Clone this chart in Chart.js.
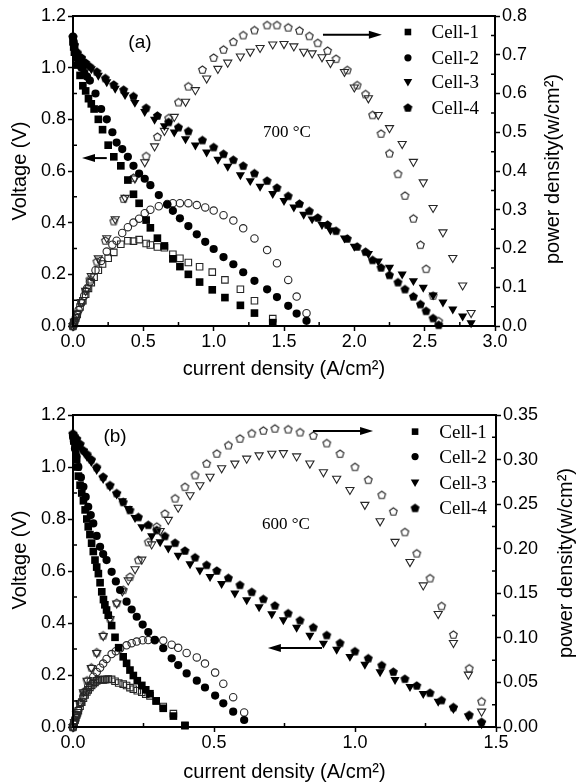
<!DOCTYPE html>
<html>
<head>
<meta charset="utf-8">
<script src="https://cdn.jsdelivr.net/npm/chart.js@4.4.1/dist/chart.umd.min.js"></script>
<style>
  html, body { margin: 0; padding: 0; background: #fff; }
  canvas { display: block; }
</style>
</head>
<body>
<canvas id="chartA" width="577" height="392"></canvas>
<canvas id="chartB" width="577" height="392"></canvas>
<script>
const cellNames = ['Cell-1', 'Cell-2', 'Cell-3', 'Cell-4'];

// ---- panel (a), 700 °C ----
const a1Cur = [0, 0.005, 0.01, 0.02, 0.03, 0.05, 0.07, 0.09, 0.11, 0.13, 0.15, 0.18, 0.21, 0.25, 0.29, 0.34, 0.39, 0.43, 0.47, 0.52, 0.55, 0.60, 0.65, 0.71, 0.76, 0.82, 0.90, 0.99, 1.08, 1.19, 1.29, 1.42];
const a1Vol = [1.10, 1.08, 1.06, 1.04, 1.01, 0.97, 0.93, 0.91, 0.88, 0.86, 0.84, 0.80, 0.76, 0.70, 0.655, 0.62, 0.565, 0.51, 0.475, 0.41, 0.38, 0.34, 0.31, 0.26, 0.23, 0.20, 0.17, 0.14, 0.11, 0.08, 0.05, 0.013];
const a1Pow = [0, 0.005, 0.011, 0.021, 0.030, 0.049, 0.065, 0.082, 0.097, 0.112, 0.126, 0.144, 0.160, 0.175, 0.190, 0.211, 0.220, 0.219, 0.223, 0.213, 0.209, 0.204, 0.202, 0.185, 0.175, 0.164, 0.153, 0.139, 0.119, 0.095, 0.065, 0.019];

const a2Cur = [0, 0.005, 0.01, 0.02, 0.04, 0.06, 0.08, 0.10, 0.12, 0.16, 0.20, 0.24, 0.28, 0.31, 0.35, 0.39, 0.43, 0.47, 0.51, 0.55, 0.61, 0.67, 0.71, 0.76, 0.82, 0.88, 0.94, 1.00, 1.07, 1.14, 1.21, 1.29, 1.38, 1.45, 1.53, 1.59, 1.66];
const a2Vol = [1.12, 1.10, 1.08, 1.06, 1.03, 1.00, 0.98, 0.965, 0.95, 0.90, 0.84, 0.80, 0.75, 0.71, 0.685, 0.655, 0.62, 0.59, 0.57, 0.545, 0.507, 0.47, 0.446, 0.417, 0.387, 0.355, 0.326, 0.298, 0.267, 0.239, 0.208, 0.175, 0.142, 0.112, 0.078, 0.048, 0.02];
const a2Pow = [0, 0.006, 0.011, 0.021, 0.041, 0.060, 0.078, 0.097, 0.114, 0.144, 0.168, 0.192, 0.210, 0.220, 0.240, 0.255, 0.267, 0.277, 0.291, 0.300, 0.309, 0.315, 0.317, 0.317, 0.317, 0.312, 0.306, 0.298, 0.286, 0.272, 0.252, 0.226, 0.196, 0.162, 0.119, 0.076, 0.033];

const a3Cur = [0, 0.01, 0.03, 0.06, 0.09, 0.13, 0.18, 0.24, 0.30, 0.37, 0.44, 0.51, 0.58, 0.65, 0.72, 0.80, 0.87, 0.95, 1.03, 1.10, 1.19, 1.26, 1.33, 1.42, 1.50, 1.57, 1.64, 1.70, 1.77, 1.83, 1.93, 2.00, 2.10, 2.17, 2.25, 2.34, 2.42, 2.49, 2.56, 2.63, 2.70, 2.77, 2.83];
const a3Vol = [1.11, 1.08, 1.05, 1.03, 1.01, 0.995, 0.97, 0.945, 0.92, 0.895, 0.865, 0.83, 0.80, 0.775, 0.75, 0.724, 0.70, 0.673, 0.645, 0.618, 0.585, 0.562, 0.540, 0.512, 0.485, 0.460, 0.432, 0.414, 0.392, 0.371, 0.34, 0.308, 0.28, 0.251, 0.227, 0.201, 0.175, 0.149, 0.119, 0.092, 0.065, 0.038, 0.012];
const a3Pow = [0, 0.011, 0.032, 0.062, 0.091, 0.129, 0.175, 0.227, 0.276, 0.331, 0.381, 0.423, 0.464, 0.504, 0.540, 0.579, 0.609, 0.639, 0.664, 0.680, 0.696, 0.708, 0.718, 0.727, 0.728, 0.722, 0.708, 0.704, 0.694, 0.679, 0.656, 0.616, 0.588, 0.545, 0.511, 0.470, 0.424, 0.371, 0.305, 0.242, 0.176, 0.105, 0.034];

const a4Cur = [0, 0.01, 0.03, 0.06, 0.09, 0.12, 0.17, 0.23, 0.29, 0.36, 0.43, 0.52, 0.60, 0.68, 0.75, 0.82, 0.92, 1.00, 1.07, 1.14, 1.21, 1.29, 1.38, 1.45, 1.53, 1.61, 1.68, 1.74, 1.81, 1.87, 1.95, 2.02, 2.08, 2.13, 2.19, 2.25, 2.31, 2.36, 2.42, 2.47, 2.51, 2.56, 2.60];
const a4Vol = [1.12, 1.09, 1.06, 1.04, 1.02, 1.005, 0.985, 0.96, 0.935, 0.915, 0.89, 0.845, 0.815, 0.79, 0.77, 0.755, 0.72, 0.693, 0.667, 0.644, 0.621, 0.592, 0.563, 0.536, 0.504, 0.474, 0.446, 0.42, 0.393, 0.369, 0.339, 0.308, 0.288, 0.256, 0.227, 0.198, 0.17, 0.143, 0.115, 0.085, 0.059, 0.031, 0.005];
const a4Pow = [0, 0.011, 0.032, 0.062, 0.092, 0.121, 0.167, 0.221, 0.271, 0.329, 0.383, 0.439, 0.489, 0.537, 0.578, 0.619, 0.662, 0.693, 0.714, 0.734, 0.751, 0.764, 0.777, 0.777, 0.771, 0.763, 0.749, 0.731, 0.711, 0.690, 0.661, 0.622, 0.599, 0.545, 0.497, 0.446, 0.393, 0.337, 0.278, 0.210, 0.148, 0.079, 0.013];

// ---- panel (b), 600 °C ----
const b1Cur = [0, 0.003, 0.007, 0.010, 0.013, 0.016, 0.019, 0.025, 0.031, 0.037, 0.043, 0.049, 0.054, 0.060, 0.066, 0.072, 0.078, 0.084, 0.090, 0.096, 0.102, 0.108, 0.113, 0.119, 0.125, 0.137, 0.149, 0.162, 0.178, 0.190, 0.202, 0.214, 0.228, 0.244, 0.258, 0.273, 0.295, 0.320, 0.356, 0.397];
const b1Vol = [1.12, 1.10, 1.08, 1.05, 1.03, 1.00, 0.965, 0.93, 0.90, 0.87, 0.835, 0.80, 0.77, 0.74, 0.707, 0.675, 0.642, 0.615, 0.59, 0.555, 0.52, 0.49, 0.47, 0.45, 0.43, 0.39, 0.345, 0.305, 0.27, 0.245, 0.219, 0.198, 0.178, 0.16, 0.143, 0.128, 0.10, 0.072, 0.042, 0.005];
const b1Pow = [0, 0.0033, 0.0076, 0.0105, 0.0134, 0.016, 0.0183, 0.0233, 0.0279, 0.0322, 0.0359, 0.0392, 0.0416, 0.0444, 0.0467, 0.0486, 0.0501, 0.0517, 0.0531, 0.0533, 0.053, 0.0529, 0.0531, 0.0536, 0.0538, 0.0534, 0.0514, 0.0494, 0.0481, 0.0466, 0.0442, 0.0424, 0.0406, 0.039, 0.0369, 0.0349, 0.0295, 0.023, 0.015, 0.002];

const b2Cur = [0, 0.003, 0.007, 0.012, 0.019, 0.028, 0.037, 0.045, 0.054, 0.063, 0.072, 0.084, 0.096, 0.107, 0.119, 0.137, 0.152, 0.167, 0.19, 0.208, 0.226, 0.247, 0.267, 0.29, 0.32, 0.35, 0.373, 0.403, 0.439, 0.468, 0.504, 0.533, 0.568, 0.607];
const b2Vol = [1.12, 1.10, 1.07, 1.04, 1.0, 0.96, 0.924, 0.885, 0.847, 0.815, 0.783, 0.735, 0.693, 0.665, 0.642, 0.597, 0.56, 0.527, 0.482, 0.452, 0.424, 0.394, 0.365, 0.335, 0.303, 0.264, 0.238, 0.206, 0.178, 0.152, 0.121, 0.091, 0.059, 0.027];
const b2Pow = [0, 0.0033, 0.0075, 0.0125, 0.019, 0.0269, 0.0342, 0.0398, 0.0457, 0.0513, 0.0564, 0.0617, 0.0665, 0.0712, 0.0764, 0.0818, 0.0851, 0.088, 0.0916, 0.094, 0.0958, 0.0973, 0.0975, 0.0972, 0.097, 0.0924, 0.0888, 0.083, 0.0781, 0.0711, 0.061, 0.0485, 0.0335, 0.0164];

const b3Cur = [0, 0.005, 0.013, 0.025, 0.037, 0.05, 0.065, 0.084, 0.107, 0.131, 0.155, 0.175, 0.196, 0.22, 0.244, 0.279, 0.309, 0.338, 0.373, 0.415, 0.45, 0.486, 0.527, 0.574, 0.616, 0.66, 0.705, 0.746, 0.793, 0.84, 0.888, 0.935, 0.982, 1.035, 1.089, 1.142, 1.195, 1.242, 1.295, 1.349, 1.402, 1.449];
const b3Vol = [1.12, 1.11, 1.10, 1.08, 1.06, 1.04, 1.02, 0.99, 0.955, 0.925, 0.895, 0.87, 0.84, 0.805, 0.77, 0.735, 0.712, 0.688, 0.66, 0.627, 0.603, 0.578, 0.551, 0.515, 0.489, 0.462, 0.435, 0.412, 0.383, 0.352, 0.322, 0.298, 0.271, 0.241, 0.212, 0.182, 0.155, 0.128, 0.098, 0.07, 0.042, 0.012];
const b3Pow = [0, 0.0056, 0.0143, 0.027, 0.0392, 0.052, 0.0663, 0.0832, 0.1022, 0.1212, 0.1387, 0.1523, 0.1646, 0.1771, 0.1879, 0.205, 0.220, 0.2325, 0.2462, 0.2602, 0.2714, 0.2809, 0.2904, 0.2956, 0.3012, 0.3049, 0.3067, 0.3074, 0.3037, 0.2957, 0.2859, 0.2786, 0.2661, 0.2494, 0.2309, 0.2078, 0.1852, 0.159, 0.1269, 0.0944, 0.0589, 0.0174];

const b4Cur = [0, 0.005, 0.013, 0.025, 0.037, 0.05, 0.065, 0.084, 0.107, 0.131, 0.155, 0.178, 0.202, 0.232, 0.267, 0.297, 0.326, 0.362, 0.397, 0.433, 0.474, 0.51, 0.551, 0.592, 0.634, 0.675, 0.716, 0.763, 0.805, 0.852, 0.9, 0.947, 1.0, 1.047, 1.095, 1.136, 1.177, 1.219, 1.266, 1.307, 1.349, 1.405, 1.449];
const b4Vol = [1.13, 1.12, 1.11, 1.09, 1.065, 1.05, 1.03, 1.0, 0.963, 0.931, 0.90, 0.866, 0.835, 0.808, 0.778, 0.758, 0.735, 0.709, 0.679, 0.653, 0.624, 0.602, 0.574, 0.547, 0.52, 0.493, 0.468, 0.438, 0.411, 0.384, 0.354, 0.324, 0.292, 0.265, 0.238, 0.213, 0.186, 0.16, 0.132, 0.104, 0.077, 0.047, 0.02];
const b4Pow = [0, 0.0056, 0.0144, 0.0273, 0.0394, 0.0525, 0.067, 0.084, 0.103, 0.122, 0.1395, 0.1541, 0.1687, 0.1875, 0.2077, 0.2251, 0.2396, 0.2567, 0.2696, 0.2827, 0.2958, 0.307, 0.3163, 0.3238, 0.3297, 0.3328, 0.3351, 0.3342, 0.3309, 0.3272, 0.3186, 0.3068, 0.292, 0.2775, 0.2606, 0.242, 0.2189, 0.195, 0.1671, 0.1359, 0.1039, 0.066, 0.029];

const SANS = '"Liberation Sans", Arial, sans-serif';
const SERIF = '"Liberation Serif", "Times New Roman", serif';
const OPEN = '#262626';

// pentagon marker drawn once on a small canvas
function makePentagon(filled, r) {
    const c = document.createElement('canvas');
    c.width = 13; c.height = 13;
    const g = c.getContext('2d');
    g.beginPath();
    for (let k = 0; k < 5; k++) {
        const ang = -Math.PI / 2 + k * 2 * Math.PI / 5;
        const px = 6.5 + r * Math.cos(ang), py = 7 + r * Math.sin(ang);
        if (k) g.lineTo(px, py); else g.moveTo(px, py);
    }
    g.closePath();
    if (filled) { g.fillStyle = '#000'; g.fill(); }
    else { g.strokeStyle = OPEN; g.lineWidth = 1.1; g.stroke(); }
    return c;
}
const pentFill = makePentagon(true, 4.7);
const pentOpen = makePentagon(false, 4.0);

const marks = [
    { fill: 'rect', open: 'rect', r: 5.4, ro: 4.6, rot: 0 },
    { fill: 'circle', open: 'circle', r: 4.1, ro: 3.7, rot: 0 },
    { fill: 'triangle', open: 'triangle', r: 5.3, ro: 4.7, rot: 180 },
    { fill: pentFill, open: pentOpen, r: 4.5, ro: 4, rot: 0 }
];

function pts(xs, ys) {
    return xs.map((x, i) => ({ x: x, y: ys[i] }));
}

function drawLegendMark(ctx, k, cx, cy) {
    ctx.fillStyle = '#000';
    ctx.beginPath();
    if (k === 0) ctx.rect(cx - 3.3, cy - 3.3, 6.6, 6.6);
    else if (k === 1) ctx.arc(cx, cy, 3.6, 0, 2 * Math.PI);
    else if (k === 2) { ctx.moveTo(cx - 4.3, cy - 3); ctx.lineTo(cx + 4.3, cy - 3); ctx.lineTo(cx, cy + 4.5); ctx.closePath(); }
    else { ctx.drawImage(pentFill, cx - 6.5, cy - 7); return; }
    ctx.fill();
}

function arrow(ctx, x1, y1, x2, y2) {
    const dir = Math.sign(x2 - x1);
    ctx.lineWidth = 2;
    ctx.beginPath();
    ctx.moveTo(x1, y1);
    ctx.lineTo(x2 - dir * 8, y2);
    ctx.stroke();
    ctx.beginPath();
    ctx.moveTo(x2, y2);
    ctx.lineTo(x2 - dir * 13, y2 - 4);
    ctx.lineTo(x2 - dir * 13, y2 + 4);
    ctx.closePath();
    ctx.fill();
}

function makeDecor(p) {
    return {
        id: 'decor',
        afterDraw(chart) {
            const { ctx, chartArea: a } = chart;
            const sx = chart.scales.x, sy = chart.scales.y, sp = chart.scales.y1;
            ctx.save();
            ctx.strokeStyle = '#000';
            ctx.fillStyle = '#000';
            // frame
            ctx.lineWidth = 2;
            ctx.strokeRect(a.left, a.top, a.right - a.left, a.bottom - a.top);
            // minor ticks, pointing inward
            ctx.lineWidth = 1.5;
            ctx.beginPath();
            for (let v = p.xStep / 2; v < p.xMax; v += p.xStep) {
                const px = sx.getPixelForValue(v);
                ctx.moveTo(px, a.bottom); ctx.lineTo(px, a.bottom - 4);
            }
            for (let v = 0.1; v < 1.2; v += 0.2) {
                const py = sy.getPixelForValue(v);
                ctx.moveTo(a.left, py); ctx.lineTo(a.left + 4, py);
            }
            for (let v = p.pStep / 2; v < p.pMax; v += p.pStep) {
                const py = sp.getPixelForValue(v);
                ctx.moveTo(a.right, py); ctx.lineTo(a.right - 4, py);
            }
            ctx.stroke();
            // arrows
            p.arrows.forEach(ar => {
                arrow(ctx, sx.getPixelForValue(ar[0]), sy.getPixelForValue(ar[2]),
                      sx.getPixelForValue(ar[1]), sy.getPixelForValue(ar[2]));
            });
            // panel tag and temperature
            ctx.textBaseline = 'middle';
            ctx.textAlign = 'center';
            ctx.font = '19px ' + SANS;
            ctx.fillText(p.tag, sx.getPixelForValue(p.tagPos[0]), sy.getPixelForValue(p.tagPos[1]));
            ctx.textAlign = 'left';
            ctx.font = '17px ' + SERIF;
            ctx.fillText(p.temp, sx.getPixelForValue(p.tempPos[0]), sy.getPixelForValue(p.tempPos[1]));
            // legend
            ctx.font = '19px ' + SERIF;
            cellNames.forEach((name, k) => {
                const ly = sy.getPixelForValue(p.legRows[k]);
                drawLegendMark(ctx, k, sx.getPixelForValue(p.legMarkX), ly);
                ctx.fillStyle = '#000';
                ctx.fillText(name, sx.getPixelForValue(p.legTextX), ly + 1);
            });
            // axis titles
            ctx.font = '20px ' + SANS;
            ctx.textAlign = 'center';
            ctx.fillText('current density (A/cm²)', (a.left + a.right) / 2, p.xTitleY);
            ctx.save();
            ctx.translate(20, p.leftTitleY);
            ctx.rotate(-Math.PI / 2);
            ctx.fillText('Voltage (V)', 0, 0);
            ctx.restore();
            ctx.save();
            ctx.translate(p.rightTitle[0], p.rightTitle[1]);
            ctx.rotate(-Math.PI / 2);
            ctx.fillText('power density(w/cm²)', 0, 0);
            ctx.restore();
            ctx.restore();
        }
    };
}

function buildPanel(id, p) {
    const datasets = [];
    p.cells.forEach((c, k) => {
        const m = marks[k];
        datasets.push({
            label: cellNames[k], data: pts(c[0], c[1]), yAxisID: 'y',
            pointStyle: m.fill, pointRadius: m.r, pointRotation: m.rot,
            backgroundColor: '#000', borderColor: '#000', borderWidth: 0, clip: false
        });
        datasets.push({
            label: cellNames[k] + ' power', data: pts(c[0], c[2]), yAxisID: 'y1',
            pointStyle: m.open, pointRadius: m.ro, pointRotation: m.rot,
            backgroundColor: 'rgba(0,0,0,0)', borderColor: OPEN, borderWidth: 1.1, clip: false
        });
    });
    const tickFont = { family: SANS, size: 18 };
    const gridOpt = { drawOnChartArea: false, tickLength: 5, tickWidth: 1.5, tickColor: '#000' };
    const borderOpt = { color: '#000', width: 2 };
    return new Chart(document.getElementById(id), {
        type: 'scatter',
        data: { datasets: datasets },
        options: {
            responsive: false,
            animation: false,
            layout: { padding: { top: p.top, left: 0, right: 0, bottom: 0 } },
            plugins: { legend: { display: false }, tooltip: { enabled: false } },
            scales: {
                x: {
                    type: 'linear', min: 0, max: p.xMax,
                    afterFit: s => { s.height = p.xH; },
                    ticks: { stepSize: p.xStep, autoSkip: false, maxRotation: 0, padding: 0,
                             callback: v => v.toFixed(1), font: tickFont, color: '#000' },
                    grid: gridOpt, border: borderOpt
                },
                y: {
                    type: 'linear', position: 'left', min: 0, max: 1.2,
                    afterFit: s => { s.width = 73; },
                    ticks: { stepSize: 0.2, padding: 2, callback: v => v.toFixed(1), font: tickFont, color: '#000' },
                    grid: gridOpt, border: borderOpt
                },
                y1: {
                    type: 'linear', position: 'right', min: 0, max: p.pMax,
                    afterFit: s => { s.width = p.rW; },
                    ticks: { stepSize: p.pStep, padding: 2, callback: v => v.toFixed(p.pDec), font: tickFont, color: '#000' },
                    grid: gridOpt, border: borderOpt
                }
            }
        },
        plugins: [makeDecor(p)]
    });
}

buildPanel('chartA', {
    cells: [[a1Cur, a1Vol, a1Pow], [a2Cur, a2Vol, a2Pow], [a3Cur, a3Vol, a3Pow], [a4Cur, a4Vol, a4Pow]],
    top: 16, xH: 66, rW: 82,
    xMax: 3.0, xStep: 0.5, pMax: 0.8, pStep: 0.1, pDec: 1,
    arrows: [[0.24, 0.064, 0.65], [1.777, 2.196, 1.127]],
    tag: '(a)', tagPos: [0.476, 1.096],
    temp: '700 °C', tempPos: [1.35, 0.747],
    legMarkX: 2.381, legTextX: 2.549, legRows: [1.138, 1.038, 0.945, 0.844],
    xTitleY: 369, leftTitleY: 171, rightTitle: [553, 169]
});

buildPanel('chartB', {
    cells: [[b1Cur, b1Vol, b1Pow], [b2Cur, b2Vol, b2Pow], [b3Cur, b3Vol, b3Pow], [b4Cur, b4Vol, b4Pow]],
    top: 23, xH: 57, rW: 81,
    xMax: 1.5, xStep: 0.5, pMax: 0.35, pStep: 0.05, pDec: 2,
    arrows: [[0.851, 1.064, 1.138], [0.883, 0.691, 0.304]],
    tag: '(b)', tagPos: [0.149, 1.115],
    temp: '600 °C', tempPos: [0.67, 0.777],
    legMarkX: 1.213, legTextX: 1.299, legRows: [1.136, 1.04, 0.94, 0.841],
    xTitleY: 380, leftTitleY: 168, rightTitle: [566, 171]
});
</script>
</body>
</html>
